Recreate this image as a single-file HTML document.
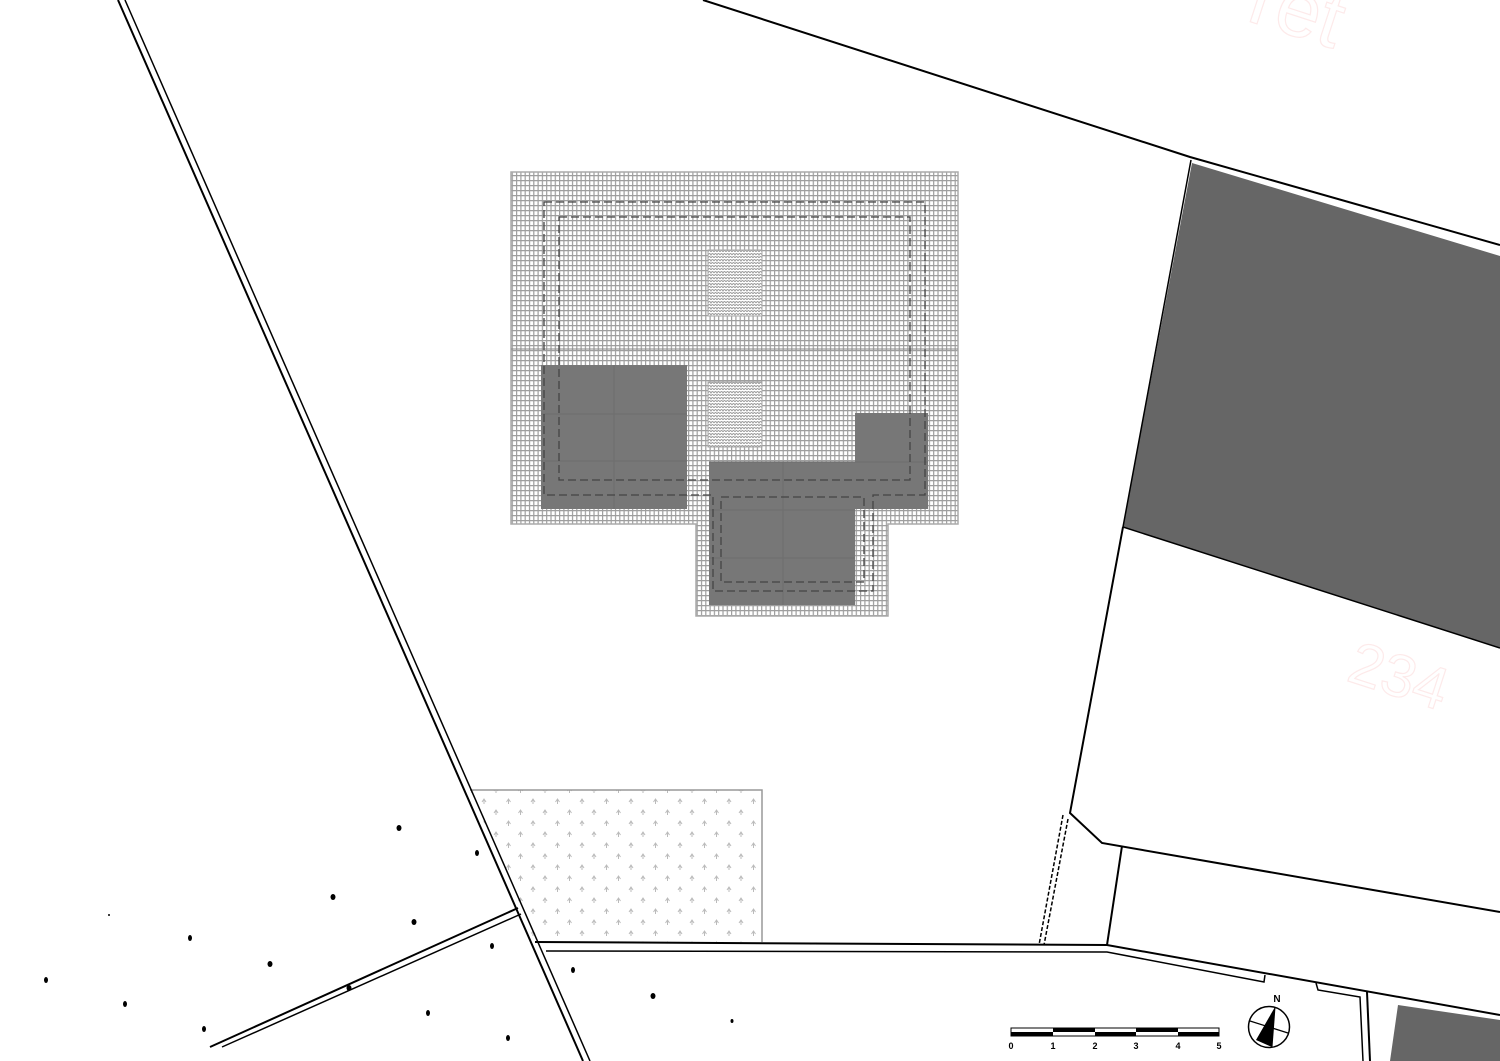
<!DOCTYPE html>
<html><head><meta charset="utf-8"><style>html,body{margin:0;padding:0;background:#fff}svg{display:block}</style></head>
<body>
<svg width="1500" height="1061" viewBox="0 0 1500 1061" xmlns="http://www.w3.org/2000/svg" font-family="Liberation Sans, sans-serif">
<defs>
<pattern id="brick" width="4.3" height="5" patternUnits="userSpaceOnUse">
<rect width="4.3" height="5" fill="#fff"/>
<path d="M0 0.6H4.3M0.6 0V5" stroke="#9e9e9e" stroke-width="1.2"/>
</pattern>
<pattern id="scale" width="6" height="6" patternUnits="userSpaceOnUse">
<rect width="6" height="6" fill="#fff"/>
<path d="M0 3 Q1.5 0 3 3 Q4.5 0 6 3 M0 6 Q1.5 3 3 6 Q4.5 3 6 6" stroke="#999" fill="none" stroke-width="0.9"/>
</pattern>
<pattern id="arrows" width="24.5" height="22" patternUnits="userSpaceOnUse" x="476" y="796">
<path d="M6 6 L8 3 L10 6 M8 3V8" stroke="#bbb" fill="none" stroke-width="1"/>
<path d="M18 17 L20 14 L22 17 M20 14V19" stroke="#bbb" fill="none" stroke-width="1"/>
</pattern>
</defs>

<!-- watermarks -->
<text x="1245" y="20" font-size="80" fill="none" stroke="#fdeaea" stroke-width="1.2" transform="rotate(18 1245 20)">ret</text>
<text x="1345" y="680" font-size="60" fill="none" stroke="#fdeaea" stroke-width="1.2" transform="rotate(18 1345 680)">234</text>

<!-- right dark block -->
<polygon points="1192,163 1500,256 1500,648 1123,527" fill="#666"/>
<polyline points="703,0 1190,157 1500,245" fill="none" stroke="#000" stroke-width="2"/>
<polyline points="1191,160 1123,527 1500,648" fill="none" stroke="#000" stroke-width="1.5"/>
<polyline points="1123,527 1070,813 1102,843 1500,912" fill="none" stroke="#000" stroke-width="2"/>
<line x1="1122" y1="846" x2="1107" y2="945" stroke="#000" stroke-width="2"/>
<line x1="1063" y1="815" x2="1039" y2="945" stroke="#000" stroke-width="1.5" stroke-dasharray="4,2"/>
<line x1="1068" y1="819" x2="1044" y2="945" stroke="#000" stroke-width="1.5" stroke-dasharray="4,2"/>

<!-- hatch area -->
<polygon points="470,790 762,790 762,942 535,942" fill="url(#arrows)"/>
<polyline points="470,790 762,790 762,942" fill="none" stroke="#999" stroke-width="1.5"/>

<!-- left roads -->
<line x1="118" y1="0" x2="583" y2="1061" stroke="#000" stroke-width="2"/>
<line x1="125" y1="0" x2="590" y2="1061" stroke="#000" stroke-width="1.5"/>
<line x1="210" y1="1047" x2="518" y2="908" stroke="#000" stroke-width="2"/>
<line x1="222" y1="1047" x2="521" y2="914" stroke="#000" stroke-width="1.5"/>

<!-- bottom road -->
<polyline points="535,942 1107,945 1500,1015" fill="none" stroke="#000" stroke-width="2"/>
<polyline points="546,951 1107,952 1264,982 1265,975" fill="none" stroke="#000" stroke-width="1.5"/>
<polyline points="1316,983 1318,990 1360,997 1363,1061" fill="none" stroke="#000" stroke-width="1.5"/>
<line x1="1367" y1="992" x2="1370" y2="1061" stroke="#000" stroke-width="2"/>
<polygon points="1398,1005 1500,1020 1500,1061 1390,1061" fill="#666"/>

<!-- dots -->
<g fill="#000">
<ellipse cx="399" cy="828" rx="2.5" ry="3"/><ellipse cx="477" cy="853" rx="2" ry="3"/>
<ellipse cx="333" cy="897" rx="2.5" ry="3"/><ellipse cx="414" cy="922" rx="2.5" ry="3"/>
<ellipse cx="190" cy="938" rx="2" ry="3"/><ellipse cx="270" cy="964" rx="2.5" ry="3"/>
<ellipse cx="46" cy="980" rx="2" ry="3"/><ellipse cx="125" cy="1004" rx="2" ry="3"/>
<ellipse cx="204" cy="1029" rx="2" ry="3"/><ellipse cx="349" cy="988" rx="2.5" ry="3"/>
<ellipse cx="428" cy="1013" rx="2" ry="3"/><ellipse cx="508" cy="1038" rx="2" ry="3"/>
<ellipse cx="492" cy="946" rx="2" ry="3"/><ellipse cx="573" cy="970" rx="2" ry="3"/>
<ellipse cx="653" cy="996" rx="2.5" ry="3"/><ellipse cx="732" cy="1021" rx="1.5" ry="2"/>
<circle cx="109" cy="915" r="1"/>
</g>

<!-- building -->
<polygon points="511,172 958,172 958,524 888,524 888,616 696,616 696,524 511,524" fill="url(#brick)" stroke="#aaa" stroke-width="1.5"/>
<line x1="511" y1="349" x2="958" y2="349" stroke="#888" stroke-width="1"/>
<rect x="708" y="250" width="54" height="66" fill="url(#scale)" stroke="#aaa"/>
<rect x="708" y="382" width="54" height="65" fill="url(#scale)" stroke="#aaa"/>
<g fill="#777">
<rect x="541" y="365" width="146" height="144"/>
<rect x="709" y="462" width="146" height="143"/>
<rect x="855" y="413" width="73" height="96"/>
</g>
<g stroke="#6e6e6e" stroke-width="1">
<line x1="614" y1="365" x2="614" y2="509"/><line x1="541" y1="414" x2="687" y2="414"/><line x1="541" y1="461" x2="687" y2="461"/>
<line x1="783" y1="462" x2="783" y2="605"/><line x1="709" y1="510" x2="855" y2="510"/><line x1="709" y1="558" x2="855" y2="558"/>
<line x1="709" y1="462" x2="928" y2="462"/>
</g>
<g fill="none" stroke="#444" stroke-width="1.3" stroke-dasharray="8,4">
<polygon points="544,202 925,202 925,495 873,495 873,591 713,591 713,495 544,495"/>
<polygon points="559,217 910,217 910,480 559,480"/>
<polygon points="721,497 864,497 864,582 721,582"/>
</g>

<!-- scale bar -->
<rect x="1011" y="1028" width="208" height="8" fill="#fff" stroke="#000" stroke-width="1"/>
<g fill="#000">
<rect x="1011" y="1032" width="42" height="4"/><rect x="1053" y="1028" width="42" height="4"/>
<rect x="1095" y="1032" width="41" height="4"/><rect x="1136" y="1028" width="42" height="4"/>
<rect x="1178" y="1032" width="41" height="4"/>
</g>
<g font-size="9" font-weight="bold" text-anchor="middle">
<text x="1011" y="1049">0</text><text x="1053" y="1049">1</text><text x="1095" y="1049">2</text>
<text x="1136" y="1049">3</text><text x="1178" y="1049">4</text><text x="1219" y="1049">5</text>
</g>
<!-- compass -->
<circle cx="1269" cy="1027" r="20.5" fill="#fff" stroke="#000" stroke-width="1.5"/>
<line x1="1250" y1="1021" x2="1288" y2="1033" stroke="#000" stroke-width="1.2"/>
<polygon points="1275,1007 1256,1040 1272,1047" fill="#000"/>
<line x1="1275" y1="1007" x2="1272" y2="1047" stroke="#000" stroke-width="1"/>
<text x="1277" y="1002" font-size="10" font-weight="bold" text-anchor="middle">N</text>
</svg>
</body></html>
